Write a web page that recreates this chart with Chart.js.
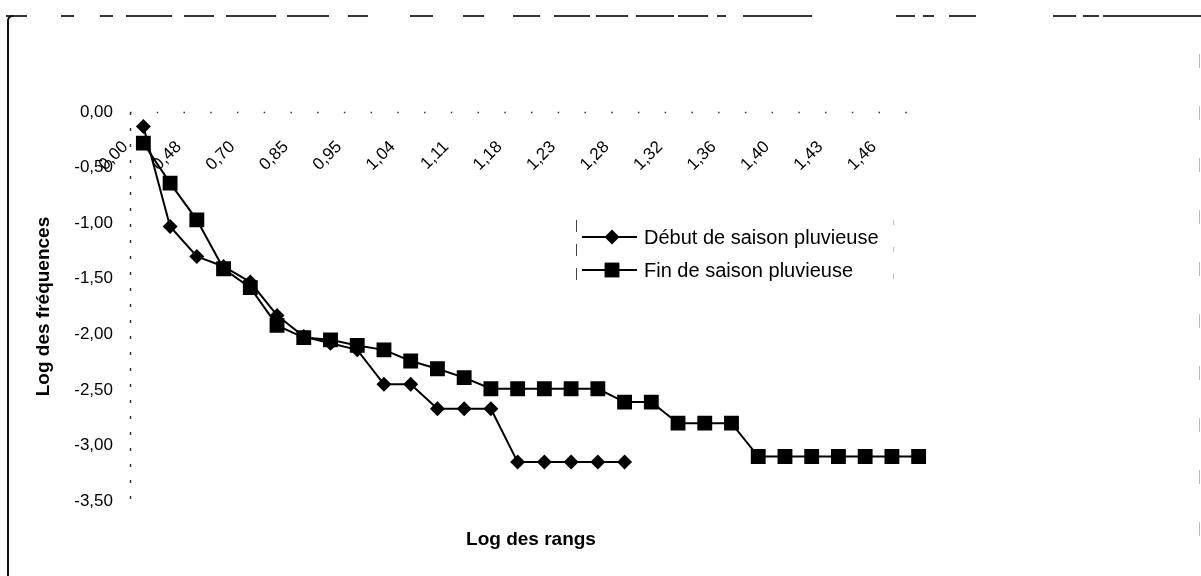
<!DOCTYPE html>
<html>
<head>
<meta charset="utf-8">
<script src="https://cdn.jsdelivr.net/npm/chart.js@4/dist/chart.umd.min.js"></script>
<style>
  html, body { margin: 0; padding: 0; background: #fff; }
  canvas { display: block; }
</style>
</head>
<body>
<canvas id="c" width="1201" height="576"></canvas>
<script>
// Log10 of the rank (1..30); only every other label is printed on the axis.
const rangLabels = ['0,00','0,30','0,48','0,60','0,70','0,78','0,85','0,90','0,95','1,00',
                    '1,04','1,08','1,11','1,15','1,18','1,20','1,23','1,26','1,28','1,30',
                    '1,32','1,34','1,36','1,38','1,40','1,41','1,43','1,45','1,46','1,48'];

// Log10 of the frequencies, start of the rainy season (19 ranks)
const debutSaison = [-0.13, -1.03, -1.30, -1.39, -1.53, -1.83, -2.02, -2.08, -2.14, -2.45,
                     -2.45, -2.67, -2.67, -2.67, -3.15, -3.15, -3.15, -3.15, -3.15];

// Log10 of the frequencies, end of the rainy season (30 ranks)
const finSaison = [-0.28, -0.64, -0.97, -1.41, -1.58, -1.92, -2.03, -2.05, -2.10, -2.14,
                   -2.24, -2.31, -2.39, -2.49, -2.49, -2.49, -2.49, -2.49, -2.61, -2.61,
                   -2.80, -2.80, -2.80, -3.10, -3.10, -3.10, -3.10, -3.10, -3.10, -3.10];

const seriesNames = ['Début de saison pluvieuse', 'Fin de saison pluvieuse'];
const yMin = -3.5, yMax = 0, yStep = 0.5;

const FONT = "'Liberation Sans', Arial, sans-serif";
const fmt = v => v.toFixed(2).replace('.', ',');

// Outer frame, faint dotted axis lines and the boxed legend inside the plot
const frameAndLegend = {
  id: 'frameAndLegend',
  beforeDraw(chart) {
    const ctx = chart.ctx;
    ctx.save();
    ctx.fillStyle = '#fff';
    ctx.fillRect(0, 0, chart.width, chart.height);
    // top border, broken into segments
    const topSegs = [[6,27],[61,74],[100,113],[126,172],[184,214],[226,276],[287,329],[348,368],
                     [410,433],[463,484],[513,540],[554,590],[596,628],[636,674],[678,708],[717,726],
                     [743,812],[896,915],[923,934],[949,976],[1053,1076],[1083,1099],[1103,1201]];
    ctx.strokeStyle = '#333';
    ctx.lineWidth = 2;
    ctx.beginPath();
    topSegs.forEach(([a, b]) => { ctx.moveTo(a, 16); ctx.lineTo(b, 16); });
    ctx.stroke();
    // left border with rounded corner
    ctx.strokeStyle = '#111';
    ctx.beginPath();
    ctx.moveTo(8, 576);
    ctx.lineTo(8, 21);
    ctx.quadraticCurveTo(8, 16, 13, 16);
    ctx.stroke();
    // faint right border
    ctx.strokeStyle = '#bbb';
    ctx.lineWidth = 1;
    ctx.setLineDash([14, 38]);
    ctx.beginPath();
    ctx.moveTo(1199.5, 54);
    ctx.lineTo(1199.5, 545);
    ctx.stroke();
    ctx.restore();
  },
  beforeDatasetsDraw(chart) {
    const ctx = chart.ctx;
    const xs = chart.scales.x, ys = chart.scales.y;
    const x0 = Math.round(xs.left) + 0.5;
    const y0 = Math.round(ys.getPixelForValue(0)) + 0.5;
    const step = (xs.right - xs.left) / chart.data.labels.length;
    ctx.save();
    ctx.strokeStyle = '#333';
    ctx.lineWidth = 1.5;
    // value axis: sparse broken line
    ctx.setLineDash([3, 13]);
    ctx.beginPath();
    ctx.moveTo(x0, ys.top);
    ctx.lineTo(x0, ys.bottom + 4);
    ctx.stroke();
    // category axis: dots at the category boundaries
    ctx.setLineDash([1.5, step - 1.5]);
    ctx.beginPath();
    ctx.moveTo(xs.left, y0);
    ctx.lineTo(xs.right, y0);
    ctx.stroke();
    ctx.restore();
  },
  afterDatasetsDraw(chart) {
    const ctx = chart.ctx;
    const box = { left: 576, right: 893, top: 220, bottom: 292 };
    const rows = [237, 270];
    ctx.save();
    // legend box edges
    ctx.lineWidth = 1;
    ctx.strokeStyle = '#444';
    ctx.setLineDash([12, 12]);
    ctx.beginPath();
    ctx.moveTo(box.left + 0.5, box.top);
    ctx.lineTo(box.left + 0.5, box.bottom);
    ctx.stroke();
    ctx.strokeStyle = '#bbb';
    ctx.setLineDash([5, 22]);
    ctx.beginPath();
    ctx.moveTo(box.right + 0.5, box.top);
    ctx.lineTo(box.right + 0.5, box.bottom);
    ctx.stroke();
    ctx.setLineDash([]);
    chart.data.datasets.forEach((ds, i) => {
      const y = rows[i];
      ctx.strokeStyle = ds.borderColor;
      ctx.lineWidth = ds.borderWidth;
      ctx.beginPath();
      ctx.moveTo(582, y);
      ctx.lineTo(637, y);
      ctx.stroke();
      ctx.fillStyle = ds.pointBackgroundColor;
      Chart.helpers.drawPoint(ctx, {
        pointStyle: ds.pointStyle, radius: ds.pointRadius, rotation: 0, borderWidth: 0
      }, 612, y);
      ctx.fillStyle = '#000';
      ctx.font = '20px ' + FONT;
      ctx.textAlign = 'left';
      ctx.textBaseline = 'middle';
      ctx.fillText(ds.label, 644, y + 1);
    });
    ctx.restore();
  }
};

new Chart(document.getElementById('c'), {
  type: 'line',
  data: {
    labels: rangLabels,
    datasets: [
      {
        label: seriesNames[0],
        data: debutSaison,
        borderColor: '#000',
        borderWidth: 2,
        pointStyle: 'rectRot',
        pointRadius: 7.5,
        pointBackgroundColor: '#000',
        pointBorderWidth: 0,
        tension: 0,
        order: 1
      },
      {
        label: seriesNames[1],
        data: finSaison,
        borderColor: '#000',
        borderWidth: 2,
        pointStyle: 'rect',
        pointRadius: 10.5,
        pointBackgroundColor: '#000',
        pointBorderWidth: 0,
        tension: 0,
        order: 0
      }
    ]
  },
  options: {
    responsive: false,
    animation: false,
    events: [],
    layout: { padding: { left: 0, right: 269, top: 112, bottom: 24.6 } },
    plugins: {
      legend: { display: false },
      tooltip: { enabled: false },
      title: {
        display: true,
        text: 'Log des rangs',
        position: 'bottom',
        fullSize: false,
        color: '#000',
        font: { family: FONT, size: 19, weight: 'bold' },
        padding: { top: 27.6, bottom: 0 }
      }
    },
    scales: {
      x: {
        type: 'category',
        position: { y: 0 },
        offset: true,
        grid: { display: false, drawTicks: false },
        border: { display: false },
        ticks: {
          autoSkip: false,
          minRotation: 45,
          maxRotation: 45,
          padding: 25,
          labelOffset: -18,
          color: '#000',
          font: { family: FONT, size: 17 },
          callback: function (value, index) {
            return index % 2 === 0 ? this.getLabelForValue(value) : '';
          }
        }
      },
      y: {
        min: yMin,
        max: yMax,
        grid: { display: false, drawTicks: false },
        border: { display: false },
        ticks: {
          stepSize: yStep,
          padding: 17,
          color: '#000',
          font: { family: FONT, size: 17 },
          callback: v => fmt(v)
        },
        title: {
          display: true,
          text: 'Log des fréquences',
          color: '#000',
          font: { family: FONT, size: 19, weight: 'bold' },
          padding: { top: 32.6, bottom: 0 }
        },
        afterFit: scale => { scale.width = 130; }
      }
    }
  },
  plugins: [frameAndLegend]
});
</script>
</body>
</html>
